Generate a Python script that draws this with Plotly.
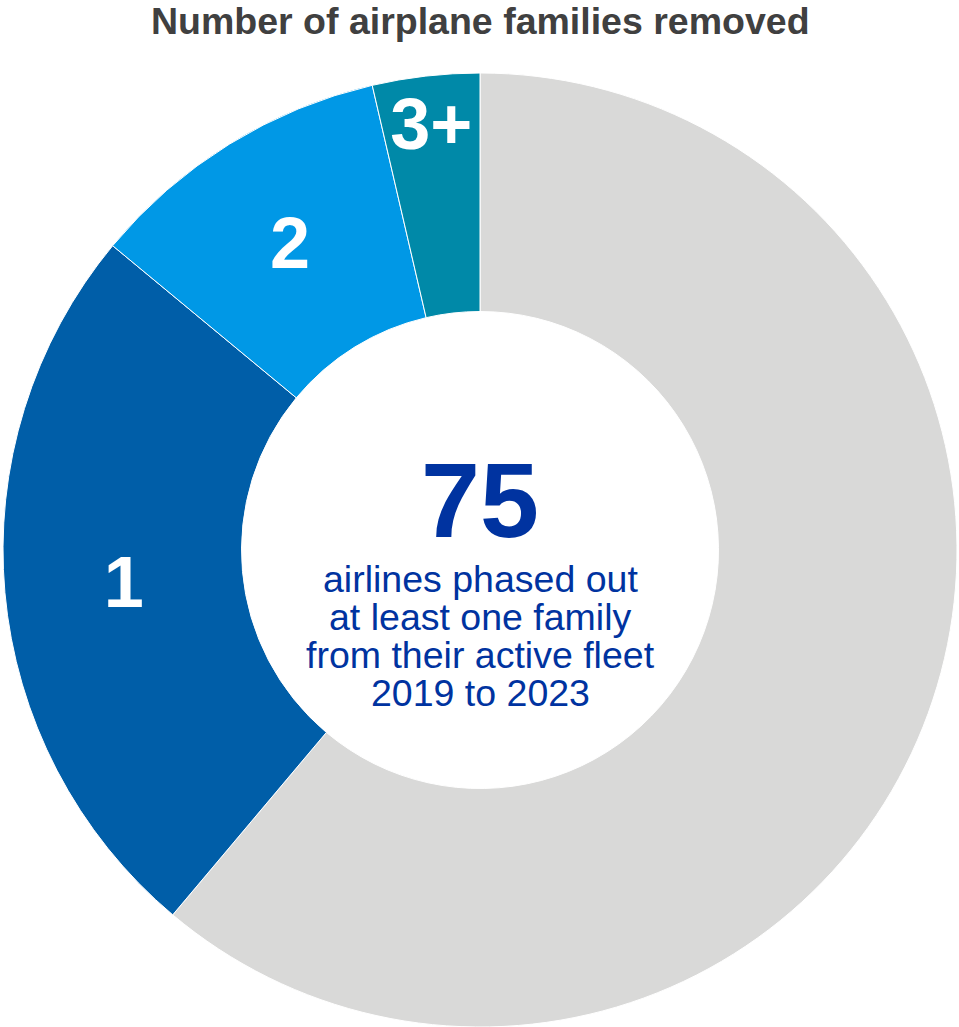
import plotly.graph_objects as go

# Data (listed starting from 12 o'clock going counter-clockwise in the reference)
categories = ["3+", "2", "1", "None"]
airline_counts = [7, 20, 48, 118]
slice_labels = ["3+", "2", "1", ""]
slice_colors = ["#0089A8", "#0098E6", "#005EA8", "#D9D9D8"]

title_text = "Number of airplane families removed"
center_number = "75"
center_lines = [
    "airlines phased out",
    "at least one family",
    "from their active fleet",
    "2019 to 2023",
]

W, H = 959, 1027
FONT = "Liberation Sans, Arial, sans-serif"
BLUE = "#0033A0"

# drawn clockwise from 12 o'clock in reverse order -> same visual arrangement
fig = go.Figure(
    go.Pie(
        labels=categories[::-1],
        values=airline_counts[::-1],
        text=slice_labels[::-1],
        textinfo="text",
        textposition="inside",
        insidetextorientation="horizontal",
        textfont=dict(family=FONT, size=72, color="white", weight="bold"),
        marker=dict(colors=slice_colors[::-1], line=dict(color="white", width=1)),
        hole=0.5,
        sort=False,
        direction="clockwise",
        rotation=0,
        showlegend=False,
        hoverinfo="label+value",
    )
)

plot_top = 73
plot_h = H - 73 - 0


def py(ypix):
    return 1 - (ypix - plot_top) / plot_h


anns = [
    dict(text=f"<b>{title_text}</b>", x=0.5, y=py(21), xref="paper", yref="paper",
         showarrow=False, font=dict(family=FONT, size=37.5, color="#404040"),
         xanchor="center", yanchor="middle"),
    dict(text=f"<b>{center_number}</b>", x=0.5, y=py(500), xref="paper", yref="paper",
         showarrow=False, font=dict(family=FONT, size=106, color=BLUE),
         xanchor="center", yanchor="middle"),
]
for i, line in enumerate(center_lines):
    anns.append(dict(text=line, x=0.5, y=py(579 + 38 * i), xref="paper", yref="paper",
                     showarrow=False, font=dict(family=FONT, size=37.5, color=BLUE),
                     xanchor="center", yanchor="middle"))

fig.update_layout(
    width=W,
    height=H,
    margin=dict(l=3, r=2, t=73, b=0),
    paper_bgcolor="white",
    plot_bgcolor="white",
    uniformtext=dict(minsize=72, mode="show"),
    annotations=anns,
)

fig.write_html(
    "out.html",
    config={"displayModeBar": False},
    post_script="document.body.style.margin='0';document.body.style.overflow='hidden';",
)
